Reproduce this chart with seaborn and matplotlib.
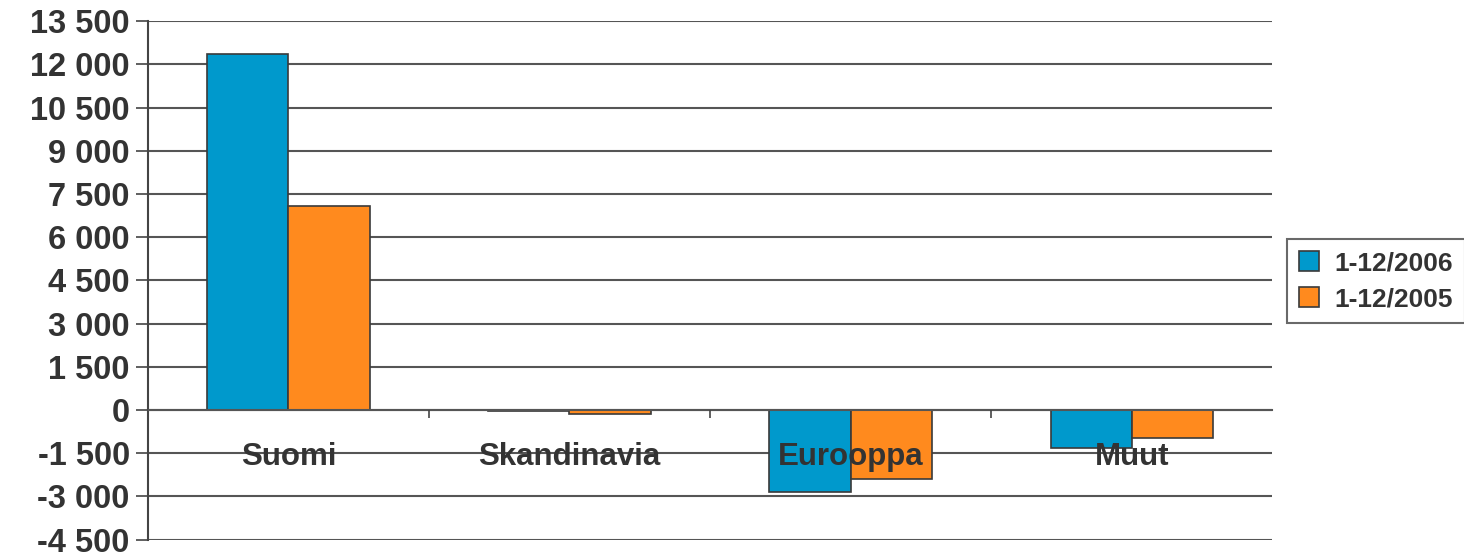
import matplotlib
matplotlib.use("Agg")
import matplotlib.pyplot as plt
import seaborn as sns
import pandas as pd
import numpy as np

categories = ['Suomi', 'Skandinavia', 'Eurooppa', 'Muut']
series_names = ['1-12/2006', '1-12/2005']
values_2006 = [12350, -30, -2840, -1310]
values_2005 = [7090, -150, -2380, -965]
yticks = list(range(-4500, 13501, 1500))

df = pd.DataFrame({
	'category': categories * 2,
	'series': [series_names[0]] * 4 + [series_names[1]] * 4,
	'value': values_2006 + values_2005,
})

sns.set_style("white")
plt.rcParams['font.family'] = ['Liberation Sans', 'DejaVu Sans']
plt.rcParams['font.weight'] = 'bold'
text_color = '#333333'

fig = plt.figure(figsize=(14.64, 5.58), dpi=100)
ax = fig.add_axes([0.101, 0.033, 0.768, 0.929])

palette = {'1-12/2006': '#0099CC', '1-12/2005': '#FF8A1E'}
sns.barplot(data=df, x='category', y='value', hue='series', order=categories,
			hue_order=series_names, palette=palette, width=0.577, gap=0,
			edgecolor='#3a3a3a', linewidth=1.2, saturation=1, errorbar=None, ax=ax, legend=True)

ax.set_axisbelow(False)
ax.set_ylim(-4500, 13500)
ax.set_xlim(-0.5, 3.5)
for v in yticks:
	ax.axhline(v, color='#555555', lw=1.5, zorder=0)

ax.set_yticks(yticks)
ax.set_yticklabels([f'{v:,}'.replace(',', ' ') for v in yticks], fontsize=23.5, fontweight='bold', color=text_color)
ax.tick_params(axis='y', direction='out', length=9, width=1.2, color='#444444', pad=4, left=True)

ax.spines['bottom'].set_position(('data', 0))
ax.spines['bottom'].set_color('#555555')
ax.spines['bottom'].set_linewidth(1.5)
ax.spines['left'].set_color('#444444')
ax.spines['left'].set_linewidth(1.5)
ax.spines['top'].set_visible(False)
ax.spines['right'].set_visible(False)

ax.set_xticks(range(len(categories)))
ax.set_xticklabels(categories, fontsize=22.5, fontweight='bold', color=text_color)
ax.set_xticks([0.5, 1.5, 2.5], minor=True)
ax.tick_params(axis='x', which='major', length=0, pad=23)
ax.tick_params(axis='x', which='minor', direction='out', length=6, width=1.2, color='#444444', bottom=True)
ax.set_xlabel('')
ax.set_ylabel('')

handles, labels = ax.get_legend_handles_labels()
ax.get_legend().remove()
leg = fig.legend(handles, labels, loc='center left', bbox_to_anchor=(0.879, 0.496),
				 fontsize=19, frameon=True, fancybox=False, handlelength=0.75, handleheight=0.75,
				 handletextpad=0.6, borderpad=0.45, labelspacing=0.45, borderaxespad=0)
leg.get_frame().set_edgecolor('#444444')
leg.get_frame().set_linewidth(1.5)
for t in leg.get_texts():
	t.set_color(text_color)
	t.set_fontweight('bold')

plt.savefig('out.png', dpi=100)
